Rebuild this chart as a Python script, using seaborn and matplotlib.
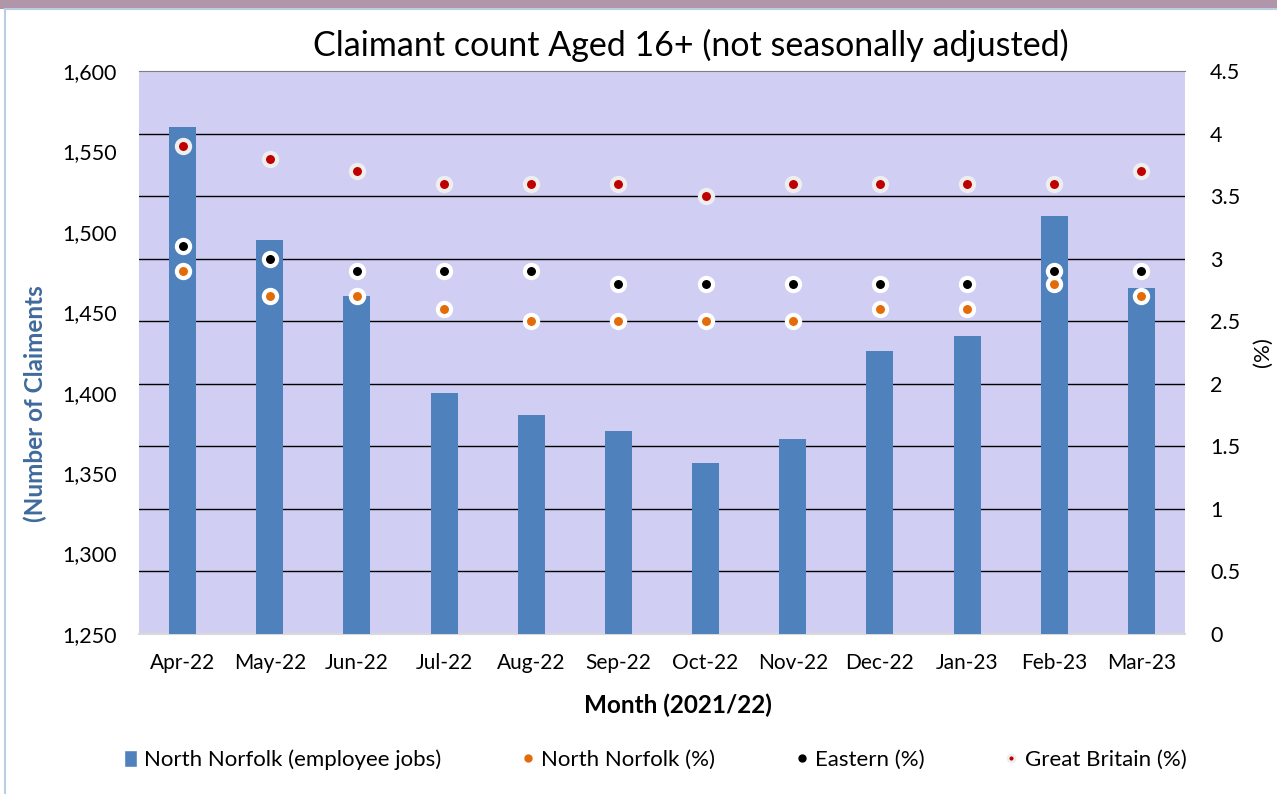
import numpy as np
import pandas as pd
import matplotlib.pyplot as plt
import seaborn as sns
from matplotlib.lines import Line2D
from matplotlib.patches import Patch, Rectangle
from matplotlib.ticker import StrMethodFormatter, FuncFormatter

months = ['Apr-22', 'May-22', 'Jun-22', 'Jul-22', 'Aug-22', 'Sep-22',
          'Oct-22', 'Nov-22', 'Dec-22', 'Jan-23', 'Feb-23', 'Mar-23']
claimants = [1565, 1495, 1460, 1400, 1386, 1376, 1356, 1371, 1426, 1435, 1510, 1465]
north_norfolk_pct = [2.9, 2.7, 2.7, 2.6, 2.5, 2.5, 2.5, 2.5, 2.6, 2.6, 2.8, 2.7]
eastern_pct = [3.1, 3.0, 2.9, 2.9, 2.9, 2.8, 2.8, 2.8, 2.8, 2.8, 2.9, 2.9]
gb_pct = [3.9, 3.8, 3.7, 3.6, 3.6, 3.6, 3.5, 3.6, 3.6, 3.6, 3.6, 3.7]

df = pd.DataFrame({'Month': months, 'Claimants': claimants,
                   'NN': north_norfolk_pct, 'Eastern': eastern_pct, 'GB': gb_pct})

sns.set_style('white')
plt.rcParams['font.family'] = ['Lato', 'DejaVu Sans']
plt.rcParams['text.color'] = 'black'
plt.rcParams['axes.labelcolor'] = 'black'
plt.rcParams['xtick.labelcolor'] = 'black'
plt.rcParams['ytick.labelcolor'] = 'black'

bar_col = '#4f81bd'
bg_col = '#d0cef3'
left_lim = (1250, 1600)
right_lim = (0, 4.5)

fig = plt.figure(figsize=(12.77, 7.94), dpi=100)
fig.patches.append(Rectangle((0, 1 - 9 / 794), 1, 9 / 794, transform=fig.transFigure,
                             facecolor='#b096a8', edgecolor='none', zorder=0))
fig.patches.append(Rectangle((5 / 1277, -0.01), 1.1, 1 - 9 / 794 + 0.01, transform=fig.transFigure,
                             facecolor='none', edgecolor='#b9cde5', lw=1.5, zorder=0))
ax = fig.add_axes([139 / 1277, 1 - 634 / 794, (1185 - 139) / 1277, (634 - 71) / 794])
ax.set_facecolor(bg_col)

sns.barplot(data=df, x='Month', y='Claimants', color=bar_col, width=0.31,
            saturation=1, linewidth=0, ax=ax, zorder=3)
ax.set_ylim(*left_lim)
ax.set_xlim(-0.5, len(months) - 0.5)

# gridlines follow the % axis, drawn behind the bars
pct_grid = np.arange(0.5, 4.51, 0.5)
grid_pos = left_lim[0] + pct_grid / right_lim[1] * (left_lim[1] - left_lim[0])
ax.set_yticks(np.arange(1250, 1601, 50))
ax.set_yticks(grid_pos, minor=True)
ax.yaxis.set_major_formatter(StrMethodFormatter('{x:,.0f}'))
ax.grid(False)
ax.grid(True, which='minor', axis='y', color='black', lw=1.0, zorder=1)
ax.set_axisbelow(True)
ax.tick_params(axis='y', which='both', length=0, pad=16, labelsize=15.5)
ax.set_xticks(np.arange(-0.5, len(months), 1), minor=True)
ax.tick_params(axis='x', which='major', length=0, pad=14, labelsize=15)
ax.tick_params(axis='x', which='minor', length=6, color='#d9d9d9', width=1.2)
for s in ['left', 'right', 'top']:
    ax.spines[s].set_visible(False)
ax.spines['bottom'].set_color('#d9d9d9')
ax.spines['bottom'].set_linewidth(1.5)
ax.set_xlabel('')
ax.set_ylabel('(Number of Claiments', color='#3f6a9c', fontsize=17.5, fontweight='bold')
ax.yaxis.set_label_coords(-0.088, 0.41)

ax2 = ax.twinx()
ax2.set_ylim(*right_lim)
ax2.set_yticks(np.arange(0, 4.51, 0.5))
ax2.yaxis.set_major_formatter(FuncFormatter(lambda v, p: f'{v:g}'))
ax2.tick_params(axis='y', length=0, pad=18, labelsize=15.5)
for s in ['left', 'right', 'bottom']:
    ax2.spines[s].set_visible(False)
ax2.spines['top'].set_color('#7f7f7f')
ax2.set_ylabel('(%)', fontsize=16)
ax2.yaxis.set_label_coords(1.065, 0.5)

series = [('NN', '#e36c09', 'white'), ('Eastern', 'black', 'white'), ('GB', '#c00000', '#eeeeee')]
for col, fc, ec in series:
    sns.scatterplot(data=df, x='Month', y=col, ax=ax2, s=90, color=fc,
                    edgecolor=ec, linewidth=3.0, zorder=5, legend=False)
ax2.set_xlabel('')

fig.text(691 / 1277, 1 - 45 / 794, 'Claimant count Aged 16+ (not seasonally adjusted)',
         ha='center', va='center', fontsize=24.5)
fig.text(678 / 1277, 1 - 705 / 794, 'Month (2021/22)', ha='center', va='center',
         fontsize=17.5, fontweight='bold')

handles = [Patch(facecolor=bar_col),
           Line2D([], [], ls='', marker='o', ms=5, color='#e36c09'),
           Line2D([], [], ls='', marker='o', ms=5, color='black'),
           Line2D([], [], ls='', marker='o', ms=5, color='#c00000', mec='#eeeeee', mew=2)]
labels = ['North Norfolk (employee jobs)', 'North Norfolk (%)', 'Eastern (%)', 'Great Britain (%)']
fig.legend(handles, labels, loc='center', bbox_to_anchor=(655 / 1277, 1 - 760 / 794),
           ncol=4, frameon=False, fontsize=16, columnspacing=3.6,
           handlelength=0.6, handletextpad=0.3, handleheight=0.8)

fig.savefig('out.png', dpi=100)
